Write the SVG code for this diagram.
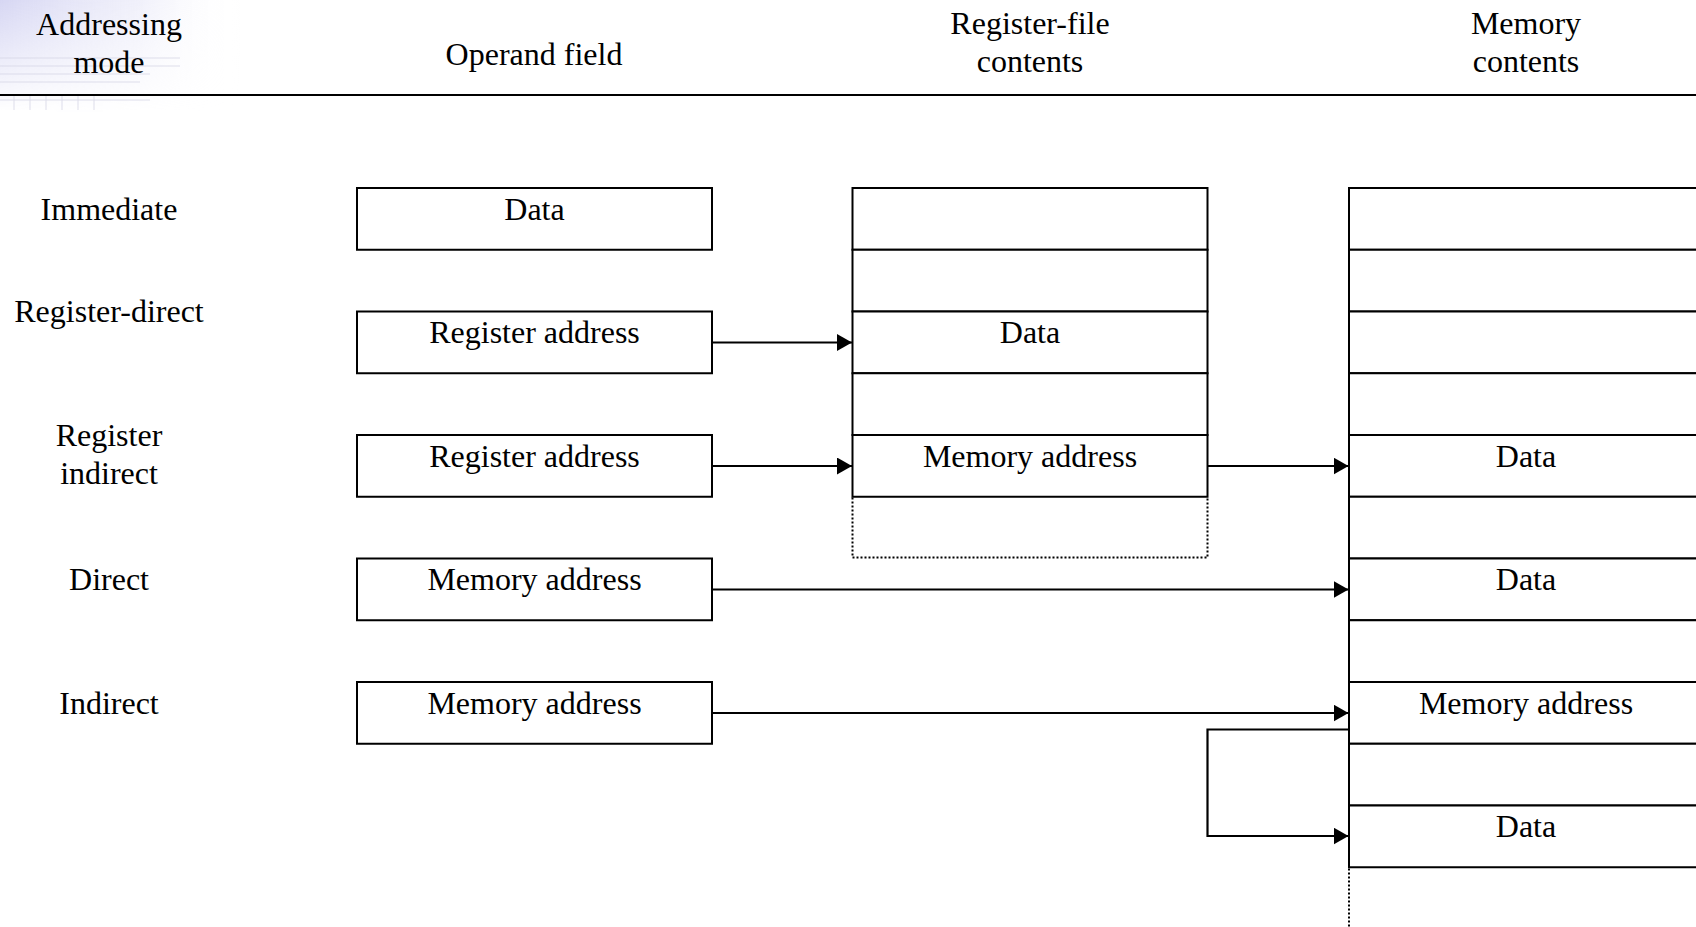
<svg xmlns="http://www.w3.org/2000/svg" width="1696" height="927" viewBox="0 0 1696 927">
  <style>
    text { font-family: "Liberation Serif", "Times New Roman", serif; font-size: 32px; fill: #000; text-anchor: middle; }
    .cell { fill: #fff; stroke: #000; stroke-width: 2; }
    .rule { fill: none; stroke: #000; stroke-width: 2; }
    .dot { fill: none; stroke: #000; stroke-width: 2; stroke-dasharray: 2 2; }
    .wire { fill: none; stroke: #000; stroke-width: 2.2; marker-end: url(#head); }
  </style>
  <defs>
    <marker id="head" markerUnits="userSpaceOnUse" markerWidth="16" markerHeight="17" refX="15" refY="8.5" orient="auto">
      <path d="M0,0 L15,8.5 L0,17 z" fill="#000"/>
    </marker>
    <linearGradient id="corner" x1="0" y1="0" x2="1" y2="0">
      <stop offset="0" stop-color="#c9c9ef" stop-opacity="0.75"/>
      <stop offset="0.6" stop-color="#dcdcf4" stop-opacity="0.4"/>
      <stop offset="1" stop-color="#ffffff" stop-opacity="0"/>
    </linearGradient>
    <linearGradient id="cornerFade" x1="0" y1="0" x2="0" y2="1">
      <stop offset="0" stop-color="#fff" stop-opacity="1"/>
      <stop offset="1" stop-color="#fff" stop-opacity="0"/>
    </linearGradient>
    <mask id="cornerMask">
      <rect x="0" y="0" width="260" height="112" fill="url(#cornerFade)"/>
    </mask>
  </defs>

  <!-- template backdrop in the top-left corner -->
  <g id="backdrop">
    <rect x="0" y="0" width="240" height="112" fill="url(#corner)" mask="url(#cornerMask)"/>
    <g stroke="#d6d6e6" stroke-width="1" opacity="0.8">
      <line x1="0" y1="58" x2="180" y2="58"/>
      <line x1="0" y1="66" x2="180" y2="66"/>
      <line x1="0" y1="74" x2="150" y2="74"/>
      <line x1="0" y1="82" x2="140" y2="82"/>
      <line x1="0" y1="100" x2="150" y2="100"/>
      <line x1="14" y1="96" x2="14" y2="110"/>
      <line x1="30" y1="96" x2="30" y2="110"/>
      <line x1="46" y1="96" x2="46" y2="110"/>
      <line x1="62" y1="96" x2="62" y2="110"/>
      <line x1="78" y1="96" x2="78" y2="110"/>
      <line x1="94" y1="96" x2="94" y2="110"/>
    </g>
  </g>

  <!-- column headings -->
  <g id="headings">
    <text x="109" y="35">Addressing</text>
    <text x="109" y="73">mode</text>
    <text x="534" y="65">Operand field</text>
    <text x="1030" y="34">Register-file</text>
    <text x="1030" y="72">contents</text>
    <text x="1526" y="34">Memory</text>
    <text x="1526" y="72">contents</text>
    <line class="rule" x1="0" y1="95" x2="1696" y2="95" stroke-width="2.5"/>
  </g>

  <!-- addressing mode names -->
  <g id="modes">
    <text x="109" y="220">Immediate</text>
    <text x="109" y="322">Register-direct</text>
    <text x="109" y="446">Register</text>
    <text x="109" y="484">indirect</text>
    <text x="109" y="590">Direct</text>
    <text x="109" y="714">Indirect</text>
  </g>

  <!-- operand field boxes -->
  <g id="op-immediate">
    <rect class="cell" x="357" y="188" width="355" height="61.75"/>
    <text x="534.5" y="220">Data</text>
  </g>
  <g id="op-register-direct">
    <rect class="cell" x="357" y="311.5" width="355" height="61.75"/>
    <text x="534.5" y="343">Register address</text>
  </g>
  <g id="op-register-indirect">
    <rect class="cell" x="357" y="435" width="355" height="61.75"/>
    <text x="534.5" y="466.5">Register address</text>
  </g>
  <g id="op-direct">
    <rect class="cell" x="357" y="558.5" width="355" height="61.75"/>
    <text x="534.5" y="590">Memory address</text>
  </g>
  <g id="op-indirect">
    <rect class="cell" x="357" y="682" width="355" height="61.75"/>
    <text x="534.5" y="713.5">Memory address</text>
  </g>

  <!-- register file -->
  <g id="register-file">
    <rect class="cell" x="852.5" y="188" width="355" height="61.75"/>
    <rect class="cell" x="852.5" y="249.75" width="355" height="61.75"/>
    <rect class="cell" x="852.5" y="311.5" width="355" height="61.75"/>
    <rect class="cell" x="852.5" y="373.25" width="355" height="61.75"/>
    <rect class="cell" x="852.5" y="435" width="355" height="61.75"/>
    <path class="dot" d="M852.5,497.5 V557.5 H1207.5 V497.5"/>
    <text x="1030" y="343">Data</text>
    <text x="1030" y="466.5">Memory address</text>
  </g>

  <!-- memory -->
  <g id="memory">
    <rect class="cell" x="1349" y="188" width="355" height="61.75"/>
    <rect class="cell" x="1349" y="249.75" width="355" height="61.75"/>
    <rect class="cell" x="1349" y="311.5" width="355" height="61.75"/>
    <rect class="cell" x="1349" y="373.25" width="355" height="61.75"/>
    <rect class="cell" x="1349" y="435" width="355" height="61.75"/>
    <rect class="cell" x="1349" y="496.75" width="355" height="61.75"/>
    <rect class="cell" x="1349" y="558.5" width="355" height="61.75"/>
    <rect class="cell" x="1349" y="620.25" width="355" height="61.75"/>
    <rect class="cell" x="1349" y="682" width="355" height="61.75"/>
    <rect class="cell" x="1349" y="743.75" width="355" height="61.75"/>
    <rect class="cell" x="1349" y="805.5" width="355" height="61.75"/>
    <path class="dot" d="M1349,868.5 V930"/>
    <text x="1526" y="466.5">Data</text>
    <text x="1526" y="590">Data</text>
    <text x="1526" y="713.5">Memory address</text>
    <text x="1526" y="837">Data</text>
  </g>

  <!-- connectors -->
  <g id="connectors">
    <path class="wire" d="M712,342.5 H852"/>
    <path class="wire" d="M712,466 H852"/>
    <path class="wire" d="M1207.5,466 H1348.5"/>
    <path class="wire" d="M712,589.5 H1348.5"/>
    <path class="wire" d="M712,713 H1348.5"/>
    <path class="wire" d="M1349,729.5 H1207.5 V836 H1348.5"/>
  </g>
</svg>
